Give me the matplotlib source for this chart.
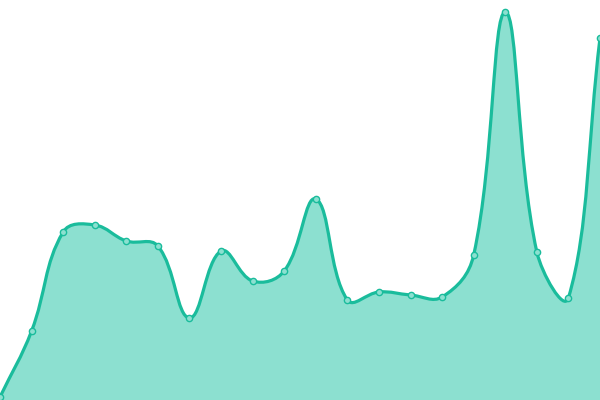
import numpy as np
import matplotlib
matplotlib.use('Agg')
import matplotlib.pyplot as plt
from matplotlib.path import Path
from matplotlib.patches import PathPatch

# values (0 = bottom of the chart, 400 = top)
values = [3, 69, 168, 175, 159, 154, 82, 149, 119, 129,
          201, 100, 108, 105, 103, 145, 388, 148, 102, 362]

line_color = '#1abc9c'
fill_color = '#8ce0d0'
tension = 0.4

W, H = 600, 400
n = len(values)
xs = np.arange(n) * W / (n - 1)
ys = np.array(values, dtype=float)


def spline_controls(xs, ys, t):
    """Chart.js style cardinal spline control points."""
    cps = []
    for i in range(len(xs)):
        px, py = (xs[i - 1], ys[i - 1]) if i > 0 else (xs[i], ys[i])
        nx, ny = (xs[i + 1], ys[i + 1]) if i < len(xs) - 1 else (xs[i], ys[i])
        cx, cy = xs[i], ys[i]
        d01 = np.hypot(cx - px, cy - py)
        d12 = np.hypot(nx - cx, ny - cy)
        s = d01 + d12
        s01 = d01 / s if s else 0
        s12 = d12 / s if s else 0
        fa = t * s01
        fb = t * s12
        prev_cp = (cx - fa * (nx - px), cy - fa * (ny - py))
        next_cp = (cx + fb * (nx - px), cy + fb * (ny - py))
        cps.append((prev_cp, next_cp))
    return cps


cps = spline_controls(xs, ys, tension)
verts = [(xs[0], ys[0])]
codes = [Path.MOVETO]
for i in range(1, n):
    verts += [cps[i - 1][1], cps[i][0], (xs[i], ys[i])]
    codes += [Path.CURVE4] * 3

line_path = Path(verts, codes)
fill_path = Path(verts + [(xs[-1], 0), (xs[0], 0), (xs[0], ys[0])],
                 codes + [Path.LINETO, Path.LINETO, Path.CLOSEPOLY])

fig = plt.figure(figsize=(6, 4), dpi=100)
ax = fig.add_axes([0, 0, 1, 1])
ax.add_patch(PathPatch(fill_path, facecolor=fill_color, edgecolor='none'))
ax.add_patch(PathPatch(line_path, facecolor='none', edgecolor=line_color,
                       lw=2.3, capstyle='round', joinstyle='round'))
ax.plot(xs, ys, 'o', ms=4.5, mfc='#8ce0d0', mec=line_color, mew=1,
        clip_on=False)
ax.set_xlim(0, W)
ax.set_ylim(0, H)
ax.axis('off')
fig.savefig('out.png', dpi=100)
